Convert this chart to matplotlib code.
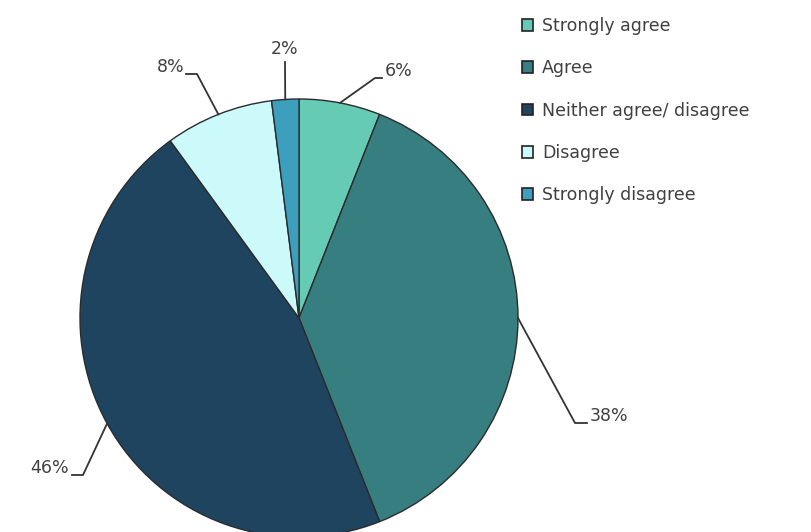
import numpy as np
import matplotlib.pyplot as plt
from matplotlib.patches import Patch

categories = ['Strongly agree', 'Agree', 'Neither agree/ disagree', 'Disagree', 'Strongly disagree']
shares = [6, 38, 46, 8, 2]
colors = ['#66cbb5', '#367e7f', '#1f4460', '#ccfafa', '#3b9fbd']
pct_labels = ['6%', '38%', '46%', '8%', '2%']

# pie placement in pixels, labels placed relative to it
W, H = 811, 532
cx, cy, R = 299, 318, 219


def px(x, y):
    return (x - cx) / R, (cy - y) / R


label_pos = [px(385, 71), px(590, 416), px(69, 468), px(184, 67), px(285, 49)]
elbow_pos = [px(375, 78), px(575, 423), px(83, 475), px(197, 74), px(285, 62)]
line_end = [px(382, 78), px(587, 423), px(72, 475), px(186, 74), None]
ha = ['left', 'left', 'right', 'right', 'center']

fig = plt.figure(figsize=(W / 100, H / 100), dpi=100)
ax = fig.add_axes([(cx - R) / W, (H - cy - R) / H, 2 * R / W, 2 * R / H])

wedges, _ = ax.pie(shares, colors=colors, startangle=90, counterclock=False,
                   wedgeprops=dict(edgecolor='#2b2b2b', linewidth=1.0))
ax.set_xlim(-1, 1)
ax.set_ylim(-1, 1)
ax.set_aspect('equal')
ax.axis('off')

for i, w in enumerate(wedges):
    ang = np.deg2rad((w.theta1 + w.theta2) / 2)
    x0, y0 = np.cos(ang), np.sin(ang)
    ex, ey = elbow_pos[i]
    xs = [x0, ex]
    ys = [y0, ey]
    if line_end[i] is not None:
        xs.append(line_end[i][0])
        ys.append(line_end[i][1])
    ax.plot(xs, ys, color='#333333', lw=1.3, clip_on=False)
    ax.text(label_pos[i][0], label_pos[i][1], pct_labels[i], ha=ha[i], va='center',
            fontsize=12.5, color='#404040', clip_on=False)

handles = [Patch(facecolor=c, edgecolor='#222222', linewidth=1.2) for c in colors]
fig.legend(handles, categories, loc='upper left', bbox_to_anchor=(515 / W, 1 - 10 / H),
           frameon=False, fontsize=12.5, handlelength=0.65, handleheight=0.65,
           handletextpad=0.5, labelspacing=1.4, labelcolor='#404040',
           borderaxespad=0)

fig.savefig('out.png', dpi=100)
